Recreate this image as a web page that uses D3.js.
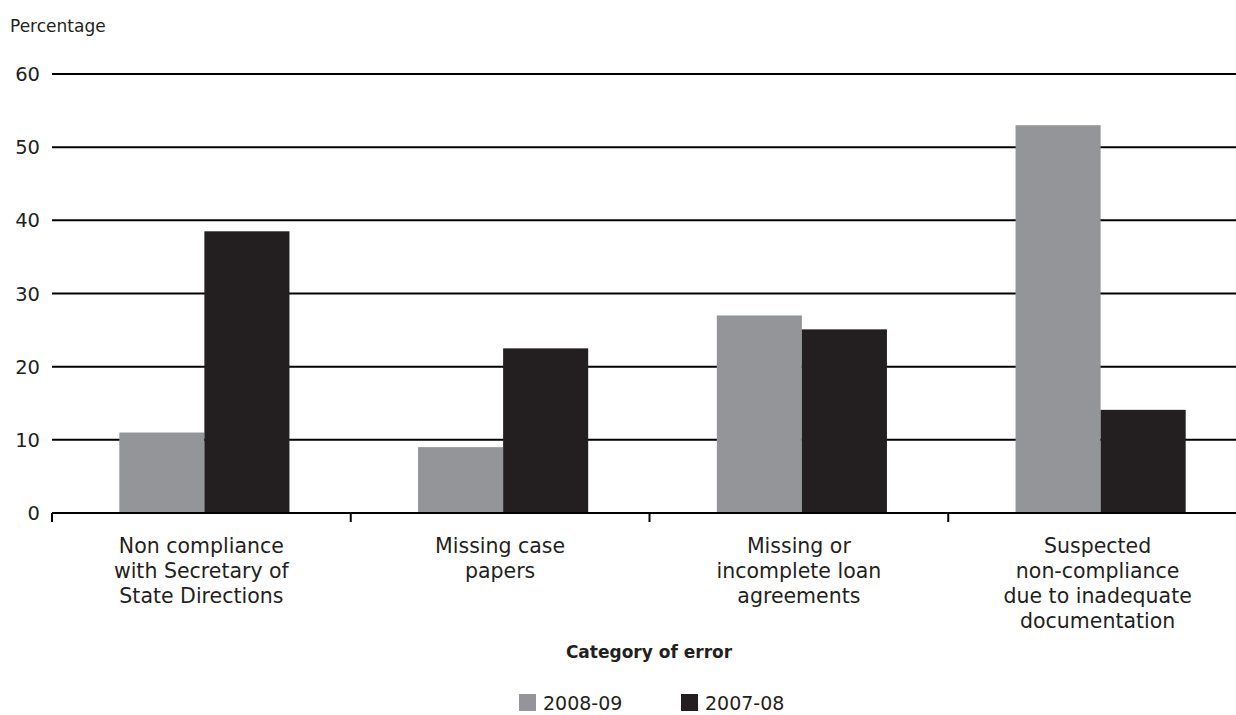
<!DOCTYPE html>
<html><head><meta charset="utf-8">
<script src="https://cdn.jsdelivr.net/npm/d3@7/dist/d3.min.js"></script>
<style>body{margin:0;background:#fff;} text{font-family:"DejaVu Sans", sans-serif; fill:#231f20;}</style>
</head><body>
<svg id="c" width="1236" height="715"></svg>
<script>
const categories = [
  ["Non compliance","with Secretary of","State Directions"],
  ["Missing case","papers"],
  ["Missing or","incomplete loan","agreements"],
  ["Suspected","non-compliance","due to inadequate","documentation"]
];
const seriesNames = ["2008-09","2007-08"];
const values2008 = [11, 9, 27, 53];
const values2007 = [38.5, 22.5, 25.1, 14.1];
const yTicks = [0,10,20,30,40,50,60];
const colors = ["#939598","#231f20"];

const svg = d3.select("#c");
const pL = 52, pR = 1247, pT = 74, pB = 513;
const x = d3.scaleBand().domain(d3.range(categories.length)).range([pL, pR]).paddingInner(0).paddingOuter(0);
const y = d3.scaleLinear().domain([0,60]).range([pB, pT]);
const inner = d3.scaleBand().domain([0,1]).range([0, x.bandwidth()]).paddingOuter(0.756).paddingInner(0);

// gridlines
svg.append("g").selectAll("line").data(yTicks.filter(d=>d>0)).join("line")
  .attr("x1", pL).attr("x2", 1236).attr("y1", d=>y(d)).attr("y2", d=>y(d))
  .attr("stroke", "#000").attr("stroke-width", 2);

// y labels
svg.append("g").selectAll("text").data(yTicks).join("text")
  .attr("x", 40).attr("y", d=>y(d)).attr("dy","0.36em").attr("text-anchor","end")
  .attr("font-size", 19.5).text(d=>d);

svg.append("text").attr("x", 10).attr("y", 32).attr("font-size", 17).text("Percentage");

// bars
const data = categories.map((c,i)=>[values2008[i], values2007[i]]);
const g = svg.append("g");
data.forEach((vals,i)=>{
  vals.forEach((v,j)=>{
    g.append("rect").attr("x", x(i) + inner(j) + 3).attr("width", inner.bandwidth())
      .attr("y", y(v)).attr("height", y(0)-y(v)).attr("fill", colors[j]);
  });
});

// x axis
const xa = svg.append("g");
xa.append("line").attr("x1", pL).attr("x2", 1236).attr("y1", pB).attr("y2", pB).attr("stroke","#000").attr("stroke-width",2);
xa.selectAll("line.tick").data(d3.range(categories.length)).join("line").attr("class","tick")
  .attr("x1", d=>x(d)).attr("x2", d=>x(d)).attr("y1", pB).attr("y2", pB+9)
  .attr("stroke","#000").attr("stroke-width",2);

categories.forEach((lines,i)=>{
  const t = svg.append("text").attr("text-anchor","middle").attr("font-size",20.5);
  lines.forEach((l,k)=>{
    t.append("tspan").attr("x", x(i)+x.bandwidth()/2).attr("y", 553 + k*25).text(l);
  });
});

svg.append("text").attr("x", 649).attr("y", 658).attr("text-anchor","middle")
  .attr("font-size",17).attr("font-weight","bold").text("Category of error");

// legend
const legX = [519, 681];
seriesNames.forEach((s,j)=>{
  svg.append("rect").attr("x", legX[j]).attr("y", 694).attr("width",17).attr("height",17).attr("fill",colors[j]);
  svg.append("text").attr("x", legX[j]+24).attr("y", 710).attr("font-size",19).text(s);
});
</script>
</body></html>
